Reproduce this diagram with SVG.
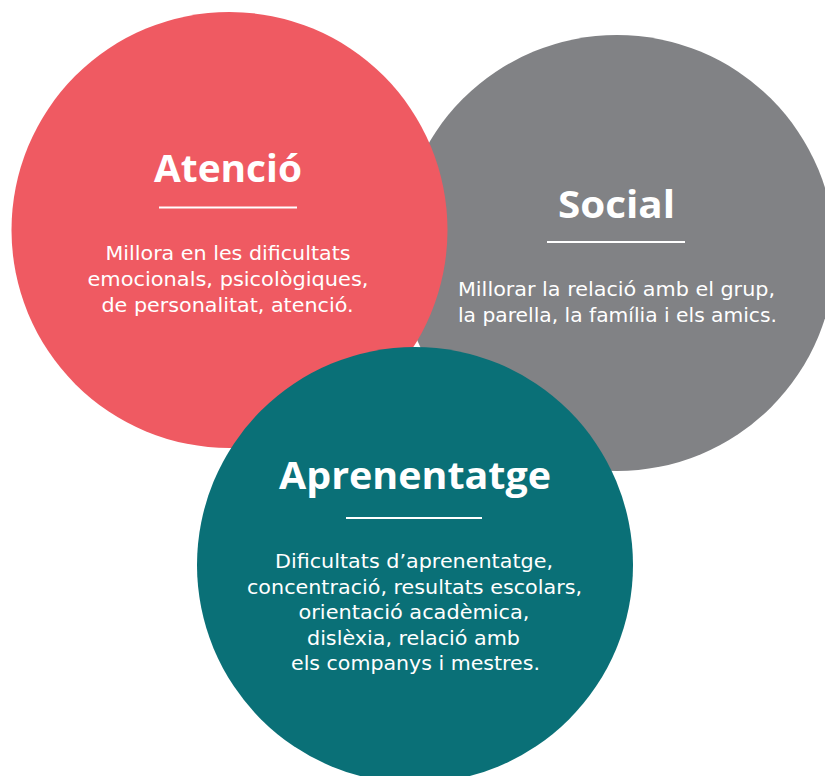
<svg xmlns="http://www.w3.org/2000/svg" width="825" height="776" viewBox="0 0 825 776">
  <style>
    .title { font-family: "Open Sans", "Liberation Sans", sans-serif; font-weight: 700; font-size: 37px; fill: #ffffff; text-anchor: middle; }
    .body { font-family: "DejaVu Sans", "Open Sans", sans-serif; font-weight: 400; font-size: 19.5px; fill: #ffffff; text-anchor: middle; }
    .rule { stroke: #ffffff; stroke-width: 2; }
  </style>
  <rect width="825" height="776" fill="#ffffff"/>
  <g id="social">
    <circle cx="617" cy="253" r="218" fill="#818285"/>
    <text class="title" x="616.5" y="218" textLength="117" lengthAdjust="spacingAndGlyphs">Social</text>
    <line class="rule" x1="547" y1="242" x2="685" y2="242"/>
    <text class="body" x="616.5" y="296" textLength="317" lengthAdjust="spacingAndGlyphs">Millorar la relació amb el grup,</text>
    <text class="body" x="617.5" y="322" textLength="319" lengthAdjust="spacingAndGlyphs">la parella, la família i els amics.</text>
  </g>
  <g id="atencio">
    <circle cx="229.5" cy="230" r="218" fill="#EF5A62"/>
    <text class="title" x="228" y="182" textLength="148" lengthAdjust="spacingAndGlyphs">Atenció</text>
    <line class="rule" x1="159" y1="207.5" x2="297" y2="207.5"/>
    <text class="body" x="228" y="260" textLength="245" lengthAdjust="spacingAndGlyphs">Millora en les dificultats</text>
    <text class="body" x="228" y="286" textLength="281" lengthAdjust="spacingAndGlyphs">emocionals, psicològiques,</text>
    <text class="body" x="227.5" y="311.5" textLength="252" lengthAdjust="spacingAndGlyphs">de personalitat, atenció.</text>
  </g>
  <g id="aprenentatge">
    <circle cx="415" cy="565" r="218" fill="#0A7077"/>
    <text class="title" x="415" y="489" textLength="272" lengthAdjust="spacingAndGlyphs">Aprenentatge</text>
    <line class="rule" x1="346" y1="518" x2="482" y2="518"/>
    <text class="body" x="414" y="568" textLength="278" lengthAdjust="spacingAndGlyphs">Dificultats d’aprenentatge,</text>
    <text class="body" x="414.5" y="593.5" textLength="335" lengthAdjust="spacingAndGlyphs">concentració, resultats escolars,</text>
    <text class="body" x="414" y="619" textLength="231" lengthAdjust="spacingAndGlyphs">orientació acadèmica,</text>
    <text class="body" x="413.5" y="644.5" textLength="213" lengthAdjust="spacingAndGlyphs">dislèxia, relació amb</text>
    <text class="body" x="415.5" y="670" textLength="249" lengthAdjust="spacingAndGlyphs">els companys i mestres.</text>
  </g>
  <g id="connectors"/>
</svg>
